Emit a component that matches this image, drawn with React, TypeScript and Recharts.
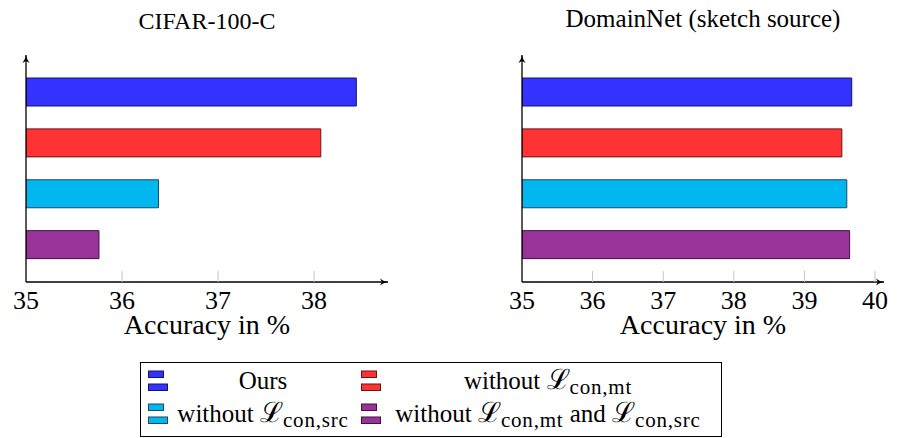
import React from "react";
import { BarChart, Bar, XAxis, YAxis, Cell } from "recharts";

const methods = ["Ours", "without mt", "without src", "without mt and src"];
const cifarValues = [38.44, 38.07, 36.38, 35.76];
const domainNetValues = [39.67, 39.53, 39.6, 39.64];
const cifarTicks = [35, 36, 37, 38];
const domainNetTicks = [35, 36, 37, 38, 39, 40];
const fillColors = ["#3333ff", "#ff3333", "#00b7ef", "#993399"];
const strokeColors = ["#141466", "#661414", "#1f4a5c", "#3d143d"];

const SERIF = "'Liberation Serif', 'DejaVu Serif', serif";
const PLOT_HEIGHT = 227;

const toRows = (vals: number[]) => methods.map((name, i) => ({ name, value: vals[i] }));

const Tick = (props: any) => {
  const { x, y, payload, index } = props;
  return (
    <g>
      {index === 0 ? (
        <line
          x1={x}
          x2={x}
          y1={y}
          y2={y - PLOT_HEIGHT}
          stroke="#000"
          strokeWidth={1.3}
          markerEnd="url(#arrowHead)"
        />
      ) : (
        <line x1={x} x2={x} y1={y - 11} y2={y} stroke="#c4c4c4" strokeWidth={1} />
      )}
      <text
        x={x}
        y={y + 27}
        textAnchor="middle"
        style={{ fontFamily: SERIF, fontSize: 26 }}
        fill="#000"
      >
        {payload.value}
      </text>
    </g>
  );
};

const AxisTitle = (props: any) => {
  const vb = props.viewBox || {};
  return (
    <text
      x={vb.x + vb.width / 2}
      y={vb.y + 52}
      textAnchor="middle"
      style={{ fontFamily: SERIF, fontSize: 28 }}
      fill="#000"
    >
      Accuracy in %
    </text>
  );
};

type PanelProps = {
  values: number[];
  ticks: number[];
  domainMax: number;
  width: number;
  marginLeft: number;
  marginRight: number;
};

const Panel = ({ values, ticks, domainMax, width, marginLeft, marginRight }: PanelProps) => (
  <BarChart
    width={width}
    height={345}
    layout="vertical"
    data={toRows(values)}
    margin={{ top: 55, right: marginRight, left: marginLeft, bottom: 0 }}
  >
    <YAxis type="category" dataKey="name" hide padding={{ top: 12, bottom: 11.5 }} />
    <Bar dataKey="value" barSize={28} isAnimationActive={false} strokeWidth={1}>
      {values.map((_, i) => (
        <Cell key={i} fill={fillColors[i]} stroke={strokeColors[i]} />
      ))}
    </Bar>
    <XAxis
      type="number"
      domain={[35, domainMax]}
      ticks={ticks}
      allowDataOverflow
      height={63}
      tickSize={0}
      tickMargin={0}
      tickLine={false}
      tick={<Tick />}
      axisLine={{ stroke: "#000", strokeWidth: 1.3, markerEnd: "url(#arrowHead)" }}
      label={<AxisTitle />}
    />
  </BarChart>
);

const LegendIcon = ({ i }: { i: number }) => (
  <svg width={22} height={22} style={{ display: "block" }}>
    <rect x={1.5} y={1} width={15} height={6.5} fill={fillColors[i]} stroke={strokeColors[i]} strokeWidth={1} />
    <rect x={1.5} y={14} width={19} height={6.5} fill={fillColors[i]} stroke={strokeColors[i]} strokeWidth={1} />
  </svg>
);

const L = ({ sub }: { sub: string }) => (
  <span>
    <span style={{ fontFamily: "DejaVu Serif", fontSize: 28 }}>ℒ</span>
    <span style={{ fontSize: 21, position: "relative", top: 5, letterSpacing: 0.8 }}>{sub}</span>
  </span>
);

const legendLabels: React.ReactNode[] = [
  <span>Ours</span>,
  <span>
    without <L sub="con,mt" />
  </span>,
  <span>
    without <L sub="con,src" />
  </span>,
  <span>
    without <L sub="con,mt" /> and <L sub="con,src" />
  </span>,
];

export default function App() {
  return (
    <div
      style={{
        position: "absolute",
        left: 0,
        top: 0,
        width: 897,
        height: 438,
        background: "#fff",
        overflow: "hidden",
        fontFamily: SERIF,
      }}
    >
      <svg width={0} height={0} style={{ position: "absolute" }}>
        <defs>
          <marker
            id="arrowHead"
            viewBox="0 0 10 10"
            refX={10}
            refY={5}
            markerWidth={8}
            markerHeight={8}
            markerUnits="userSpaceOnUse"
            orient="auto"
          >
            <path d="M0,0.5 Q4,4 10,5 Q4,6 0,9.5 L2.5,5 Z" fill="#000" />
          </marker>
        </defs>
      </svg>

      <div
        style={{
          position: "absolute",
          left: 0,
          width: 414,
          top: 7,
          textAlign: "center",
          fontSize: 24,
          lineHeight: "28px",
        }}
      >
        CIFAR-100-C
      </div>
      <div
        style={{
          position: "absolute",
          left: 503,
          width: 400,
          top: 5,
          textAlign: "center",
          fontSize: 25,
          lineHeight: "28px",
        }}
      >
        DomainNet (sketch source)
      </div>

      <div style={{ position: "absolute", left: 0, top: 0 }}>
        <Panel
          values={cifarValues}
          ticks={cifarTicks}
          domainMax={38.77}
          width={450}
          marginLeft={26}
          marginRight={62}
        />
      </div>
      <div style={{ position: "absolute", left: 480, top: 0 }}>
        <Panel
          values={domainNetValues}
          ticks={domainNetTicks}
          domainMax={40.127}
          width={417}
          marginLeft={42}
          marginRight={13}
        />
      </div>

      <div
        style={{
          position: "absolute",
          left: 140,
          top: 362,
          width: 582,
          height: 75,
          border: "1.3px solid #000",
          boxSizing: "border-box",
          display: "grid",
          gridTemplateColumns: "21px 190px 23px 334px",
          gridTemplateRows: "33px 33px",
          alignItems: "center",
          padding: "1px 0 0 6px",
          fontSize: 25,
          lineHeight: "30px",
        }}
      >
        {legendLabels.map((lab, i) => (
          <React.Fragment key={i}>
            <div style={{ paddingLeft: i % 2 === 1 ? 2 : 0 }}>
              <LegendIcon i={i} />
            </div>
            <div style={{ textAlign: "center", whiteSpace: "nowrap" }}>{lab}</div>
          </React.Fragment>
        ))}
      </div>
    </div>
  );
}
